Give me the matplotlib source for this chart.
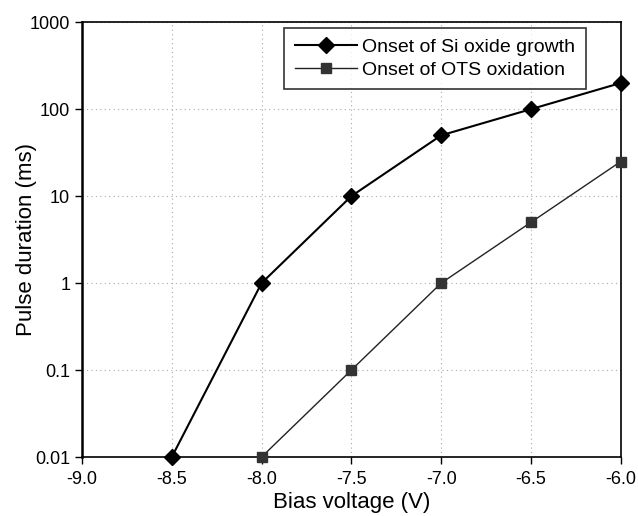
import matplotlib
matplotlib.use("Agg")
import matplotlib.pyplot as plt
from matplotlib.ticker import FixedLocator, FixedFormatter, NullLocator

plt.rcParams['font.family'] = ['Liberation Sans', 'DejaVu Sans']
plt.rcParams['axes.unicode_minus'] = False

# Bias voltage (V) and pulse duration (ms) thresholds
si_voltage = [-8.5, -8.0, -7.5, -7.0, -6.5, -6.0]
si_duration = [0.01, 1, 10, 50, 100, 200]

ots_voltage = [-8.0, -7.5, -7.0, -6.5, -6.0]
ots_duration = [0.01, 0.1, 1, 5, 25]

x_ticks = [-9.0, -8.5, -8.0, -7.5, -7.0, -6.5, -6.0]
x_tick_labels = ["-9.0", "-8.5", "-8.0", "-7.5", "-7.0", "-6.5", "-6.0"]
y_ticks = [0.01, 0.1, 1, 10, 100, 1000]
y_tick_labels = ["0.01", "0.1", "1", "10", "100", "1000"]

fig = plt.figure(figsize=(6.38, 5.16), dpi=100)
ax = fig.add_axes([0.1285, 0.1143, 0.8445, 0.8427])

ax.plot(si_voltage, si_duration, color='black', lw=1.5, marker='D',
        markersize=8.5, markerfacecolor='black', markeredgecolor='black',
        label='Onset of Si oxide growth', clip_on=False, zorder=3)
ax.plot(ots_voltage, ots_duration, color='#222222', lw=1.0, marker='s',
        markersize=7.5, markerfacecolor='#333333', markeredgecolor='#333333',
        label='Onset of OTS oxidation', clip_on=False, zorder=3)

ax.set_yscale('log')
ax.set_xlim(-9.0, -6.0)
ax.set_ylim(0.01, 1000)

ax.xaxis.set_major_locator(FixedLocator(x_ticks))
ax.xaxis.set_major_formatter(FixedFormatter(x_tick_labels))
ax.yaxis.set_major_locator(FixedLocator(y_ticks))
ax.yaxis.set_major_formatter(FixedFormatter(y_tick_labels))
ax.yaxis.set_minor_locator(NullLocator())
ax.xaxis.set_minor_locator(NullLocator())

ax.tick_params(axis='both', direction='out', length=5, width=1,
               labelsize=13, color='black')
ax.tick_params(axis='x', pad=5)
ax.grid(True, which='major', linestyle=(0, (1, 3)), color='#aaaaaa', lw=0.8)
ax.set_axisbelow(True)

for side in ['top', 'right', 'bottom']:
    ax.spines[side].set_linewidth(1.2)
ax.spines['left'].set_linewidth(1.8)

ax.set_xlabel('Bias voltage (V)', fontsize=16, labelpad=3)
ax.set_ylabel('Pulse duration (ms)', fontsize=16)
ax.yaxis.set_label_coords(-0.083, 0.5)

leg = ax.legend(loc='upper right', bbox_to_anchor=(0.935, 0.987),
                borderaxespad=0, fontsize=14, frameon=True, fancybox=False,
                edgecolor='black', handlelength=3.2, handletextpad=0.25,
                labelspacing=0.25, borderpad=0.55)
leg.get_frame().set_linewidth(1.2)

fig.savefig('out.png', dpi=100)
